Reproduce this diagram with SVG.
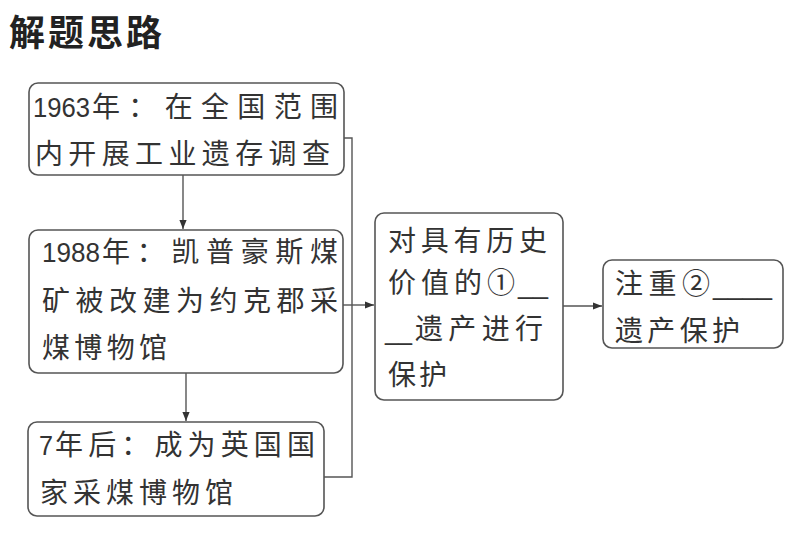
<svg xmlns="http://www.w3.org/2000/svg" width="790" height="559" viewBox="0 0 790 559">
<defs>
<style>
.box{fill:#fff;stroke:#555;stroke-width:1.6}
.t{font-family:"Liberation Sans","Noto Sans CJK SC",sans-serif;font-size:28px;fill:#333}
.title{font-family:"Noto Sans CJK SC",sans-serif;font-size:36px;font-weight:bold;fill:#222}
.c{fill:none;stroke:#555;stroke-width:1.4}
</style>
<marker id="ah" viewBox="0 0 10 10" refX="10" refY="5" markerWidth="9" markerHeight="9" markerUnits="userSpaceOnUse" orient="auto">
<path d="M0,1 L10,5 L0,9 Z" fill="#333"/>
</marker>
</defs>
<rect width="790" height="559" fill="#fff"/>
<text class="title" x="9" y="46" textLength="153" lengthAdjust="spacing">解题思路</text>
<g id="connectors">
<line class="c" x1="183" y1="175" x2="183" y2="229" marker-end="url(#ah)"/>
<line class="c" x1="186" y1="372" x2="186" y2="421" marker-end="url(#ah)"/>
<polyline class="c" points="344,138 352,138 352,477 324,477"/>
<line class="c" x1="343" y1="305" x2="374" y2="305" marker-end="url(#ah)"/>
<line class="c" x1="563" y1="306" x2="602" y2="306" marker-end="url(#ah)"/>
</g>
<g id="n1">
<rect class="box" x="29" y="83" width="315" height="92" rx="9"/>
<text class="t" x="33" y="117" textLength="57" lengthAdjust="spacingAndGlyphs">1963</text>
<text class="t" x="92" y="117" textLength="246" lengthAdjust="spacing">年：在全国范围</text>
<text class="t" x="35" y="164" textLength="295" lengthAdjust="spacing">内开展工业遗存调查</text>
</g>
<g id="n2">
<rect class="box" x="29" y="230" width="314" height="143" rx="9"/>
<text class="t" x="42" y="262" textLength="58" lengthAdjust="spacingAndGlyphs">1988</text>
<text class="t" x="102" y="262" textLength="236" lengthAdjust="spacing">年：凯普豪斯煤</text>
<text class="t" x="42" y="311" textLength="296" lengthAdjust="spacing">矿被改建为约克郡采</text>
<text class="t" x="42" y="358" textLength="125" lengthAdjust="spacing">煤博物馆</text>
</g>
<g id="n3">
<rect class="box" x="28" y="422" width="296" height="94" rx="9"/>
<text class="t" x="39" y="455" textLength="14" lengthAdjust="spacingAndGlyphs">7</text>
<text class="t" x="55" y="455" textLength="260" lengthAdjust="spacing">年后：成为英国国</text>
<text class="t" x="40" y="503" textLength="193" lengthAdjust="spacing">家采煤博物馆</text>
</g>
<g id="n4">
<rect class="box" x="375" y="213" width="188" height="187" rx="9"/>
<text class="t" x="388" y="251" textLength="159" lengthAdjust="spacing">对具有历史</text>
<text class="t" x="388" y="293" textLength="127" lengthAdjust="spacing">价值的①</text>
<text class="t" x="518" y="293" textLength="30" lengthAdjust="spacingAndGlyphs">__</text>
<text class="t" x="385" y="339" textLength="27" lengthAdjust="spacingAndGlyphs">__</text>
<text class="t" x="415" y="339" textLength="128" lengthAdjust="spacing">遗产进行</text>
<text class="t" x="388" y="385" textLength="59" lengthAdjust="spacing">保护</text>
</g>
<g id="n5">
<rect class="box" x="603" y="260" width="180" height="88" rx="9"/>
<text class="t" x="615" y="294" textLength="95" lengthAdjust="spacing">注重②</text>
<text class="t" x="713" y="294" textLength="59" lengthAdjust="spacingAndGlyphs">____</text>
<text class="t" x="615" y="341" textLength="125" lengthAdjust="spacing">遗产保护</text>
</g>
</svg>
